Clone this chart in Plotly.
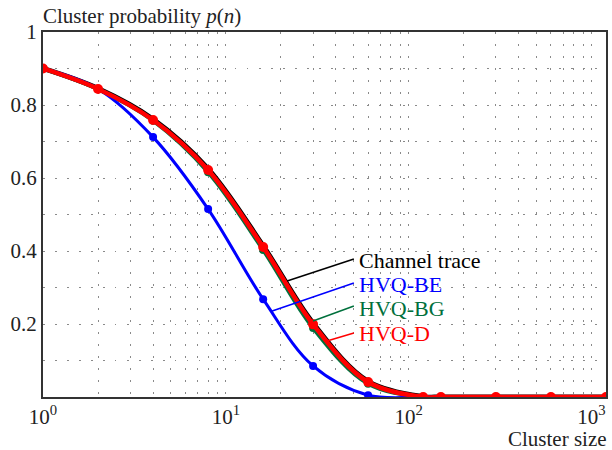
import numpy as np
import plotly.graph_objects as go

# ---- data ----
cluster_size = [1, 2, 4, 8, 16, 30, 60, 120, 150, 300, 600, 1200]
channel_trace = [0.900, 0.845, 0.761, 0.625, 0.414, 0.202, 0.043, 0.001, 0.0, 0.0, 0.0, 0.0]
hvq_be = [0.900, 0.844, 0.712, 0.515, 0.268, 0.085, 0.005, 0.0, 0.0, 0.0, 0.0, 0.0]
hvq_bg = [0.900, 0.843, 0.757, 0.616, 0.403, 0.189, 0.036, 0.0, 0.0, 0.0, 0.0, 0.0]
hvq_d = [0.900, 0.844, 0.759, 0.622, 0.411, 0.199, 0.041, 0.0, 0.0, 0.0, 0.0, 0.0]

x_tick_vals = [m * 10 ** e for e in range(0, 4) for m in range(1, 10) if m * 10 ** e <= 1000]
x_tick_text = ["10<sup>%d</sup>" % e if m == 1 else "" for e in range(0, 4) for m in range(1, 10) if m * 10 ** e <= 1000]
y_tick_vals = [0.1, 0.2, 0.3, 0.4, 0.5, 0.6, 0.7, 0.8, 0.9, 1.0]
y_tick_text = ["", "0.2", "", "0.4", "", "0.6", "", "0.8", "", "1"]

BLUE = "#0000FF"
GREEN = "#00703C"
RED = "#FF0000"
FONT = "Liberation Serif"

fig = go.Figure()
fig.add_trace(go.Scatter(x=cluster_size, y=channel_trace, mode="lines",
                         line=dict(color="black", width=5, shape="spline", smoothing=1.0),
                         name="Channel trace"))
fig.add_trace(go.Scatter(x=cluster_size, y=hvq_bg, mode="lines+markers",
                         line=dict(color=GREEN, width=4, shape="spline", smoothing=1.0),
                         marker=dict(color=GREEN, size=8), name="HVQ-BG"))
fig.add_trace(go.Scatter(x=cluster_size, y=hvq_be, mode="lines+markers",
                         line=dict(color=BLUE, width=3, shape="spline", smoothing=1.0),
                         marker=dict(color=BLUE, size=8), name="HVQ-BE"))
fig.add_trace(go.Scatter(x=cluster_size, y=hvq_d, mode="lines+markers",
                         line=dict(color=RED, width=4.5, shape="spline", smoothing=1.0),
                         marker=dict(color=RED, size=10), name="HVQ-D"))

W, H = 612, 450
L, R, T, B = 43, 4, 32, 53

fig.update_layout(
    width=W, height=H,
    margin=dict(l=L, r=R, t=T, b=B),
    paper_bgcolor="white", plot_bgcolor="white",
    showlegend=False,
    font=dict(family=FONT, size=21, color="#222"),
)
grid = dict(showgrid=True, gridcolor="#8a8a8a", gridwidth=1.3, griddash="1.5px,10.5px",
            showline=True, linecolor="#333", linewidth=2, mirror=True,
            zeroline=False, ticks="", tickfont=dict(family=FONT, size=21, color="#222"))
fig.update_xaxes(type="log", range=[0, np.log10(1200)],
                 tickvals=x_tick_vals, ticktext=x_tick_text, **grid)
fig.update_yaxes(range=[0, 1], tickvals=y_tick_vals, ticktext=y_tick_text, **grid)

# leader lines and labels (paper coordinates)
labels = [
    ("Channel trace", "black", (0.4336, 0.3178), (0.5522, 0.3781), 0.375),
    ("HVQ-BE", BLUE, (0.4071, 0.2356), (0.5522, 0.3123), 0.308),
    ("HVQ-BG", GREEN, (0.4796, 0.2082), (0.5522, 0.2493), 0.243),
    ("HVQ-D", RED, (0.5044, 0.1534), (0.5522, 0.1753), 0.175),
]
for text, col, p0, p1, ty in labels:
    fig.add_shape(type="line", xref="paper", yref="paper",
                  x0=p0[0], y0=p0[1], x1=p1[0], y1=p1[1],
                  line=dict(color=col, width=1.5))
    fig.add_annotation(xref="paper", yref="paper", x=0.558, y=ty,
                       xanchor="left", yanchor="middle", showarrow=False,
                       text=text, font=dict(family=FONT, size=22, color=col))

fig.add_annotation(xref="paper", yref="paper", x=-0.003, y=1.045,
                   xanchor="left", yanchor="middle", showarrow=False,
                   text="Cluster probability <i>p</i>(<i>n</i>)",
                   font=dict(family=FONT, size=21, color="#222"))
fig.add_annotation(xref="paper", yref="paper", x=1.005, y=-0.115,
                   xanchor="right", yanchor="middle", showarrow=False,
                   text="Cluster size",
                   font=dict(family=FONT, size=21, color="#222"))

fig.write_html("out.html")
